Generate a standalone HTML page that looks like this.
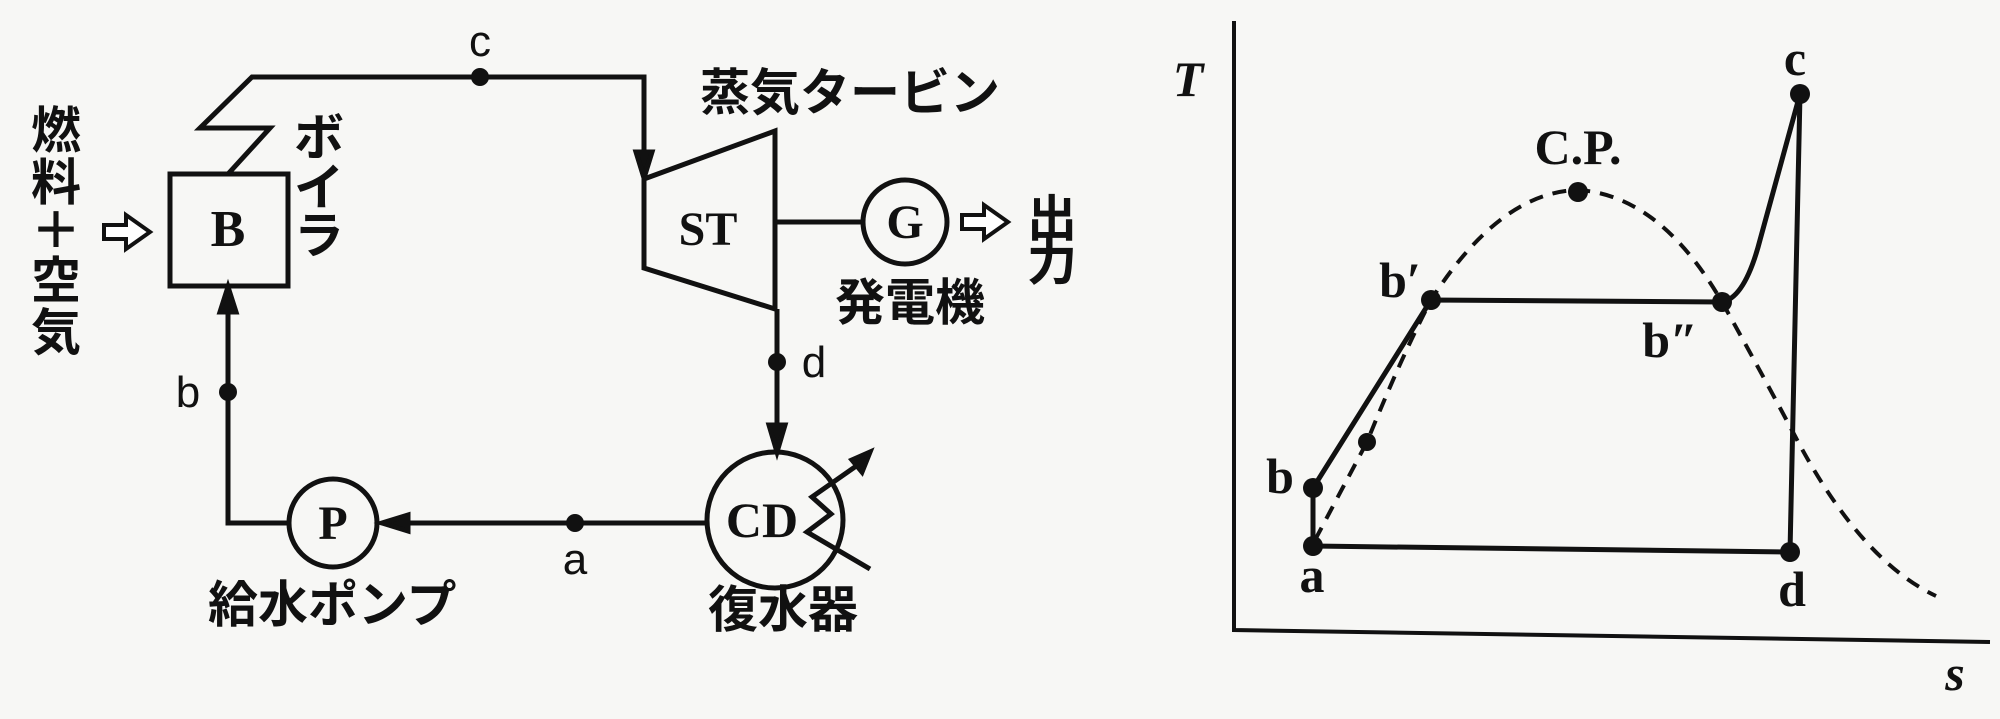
<!DOCTYPE html>
<html><head><meta charset="utf-8"><style>
html,body{margin:0;padding:0;background:#f7f7f5;}
svg{display:block}
.j{font-family:"Liberation Sans","Noto Sans CJK JP",sans-serif;font-size:50px;fill:#111;font-weight:bold}
.s{font-family:"Liberation Serif","Noto Serif CJK SC",serif;font-weight:bold;fill:#111}
.l{font-family:"Liberation Sans",sans-serif;font-size:44px;fill:#111}
</style></head><body>
<svg width="2000" height="719" viewBox="0 0 2000 719">
<g stroke="#111" stroke-width="5" fill="none">
<rect x="170" y="174" width="118" height="112"/>
<polyline points="228,174 270,128 200,128 252,77 644,77 644,160"/>
<path d="M636,152 L644,178 L652,152z" fill="#111"/>
<polygon points="644,179 775,131 775,309 644,268"/>
<line x1="775" y1="222" x2="863" y2="222"/>
<circle cx="905" cy="222" r="42"/>
<line x1="777" y1="309" x2="777" y2="430"/>
<path d="M769,425 L777,452 L785,425z" fill="#111"/>
<circle cx="775" cy="520" r="68"/>
<polyline points="870,569 807,532 831,514 812,497 862,462"/>
<path d="M870,452 L852,460 L862,472z" fill="#111"/>
<line x1="708" y1="523" x2="405" y2="523"/>
<path d="M382,523 L408,515 L408,531z" fill="#111"/>
<circle cx="333" cy="523" r="44"/>
<polyline points="289,523 228,523 228,310"/>
<path d="M220,312 L228,287 L236,312z" fill="#111"/>
</g>
<g stroke="#111" stroke-width="4" fill="#fff">
<path d="M104,225 h22 v-10 l24,17 l-24,17 v-10 h-22z"/>
<path d="M962,215 h22 v-10 l24,17 l-24,17 v-10 h-22z"/>
</g>
<g fill="#111">
<circle cx="480" cy="77" r="9"/><circle cx="777" cy="362" r="9"/><circle cx="575" cy="523" r="9"/><circle cx="228" cy="392" r="9"/>
</g>
<text class="s" x="228" y="246" font-size="52" text-anchor="middle">B</text>
<text class="s" x="708" y="245" font-size="48" text-anchor="middle">ST</text>
<text class="s" x="905" y="238" font-size="48" text-anchor="middle">G</text>
<text class="s" x="333" y="539" font-size="48" text-anchor="middle">P</text>
<text class="s" x="762" y="537" font-size="50" text-anchor="middle">CD</text>
<text class="l" x="480" y="56" text-anchor="middle">c</text>
<text class="l" x="814" y="377" text-anchor="middle">d</text>
<text class="l" x="575" y="574" text-anchor="middle">a</text>
<text class="l" x="188" y="407" text-anchor="middle">b</text>
<g class="j" text-anchor="middle">
<text x="56" y="148">燃</text><text x="56" y="200">料</text><text x="56" y="248">＋</text><text x="56" y="298">空</text><text x="56" y="350">気</text>
<text x="319" y="155">ボ</text><text x="319" y="205">イ</text><text x="319" y="253">ラ</text>
<text x="1052" y="236">出</text><text x="1052" y="280">力</text>
</g>
<text class="j" x="700" y="110" font-size="48">蒸気タービン</text>
<text class="j" x="835" y="320" font-size="48">発電機</text>
<text class="j" x="208" y="622" font-size="51">給水ポンプ</text>
<text class="j" x="708" y="627" font-size="50">復水器</text>
<g stroke="#111" stroke-width="4" fill="none">
<polyline points="1234,21 1234,630 1990,642"/>
<path d="M1315,540 L1367,442 Q1400,360 1431,300 Q1500,192 1578,190 Q1660,195 1722,302 Q1760,370 1795,436 Q1860,560 1936,596" stroke-dasharray="14,10"/>
</g>
<g stroke="#111" stroke-width="5" fill="none">
<polyline points="1313,546 1313,488 1431,300 1722,302"/>
<path d="M1722,302 Q1745,298 1760,240 Q1782,160 1800,94"/>
<polyline points="1800,94 1790,552 1313,546"/>
</g>
<g fill="#111">
<circle cx="1313" cy="546" r="10"/><circle cx="1313" cy="488" r="10"/><circle cx="1431" cy="300" r="10"/><circle cx="1722" cy="302" r="10"/><circle cx="1800" cy="94" r="10"/><circle cx="1790" cy="552" r="10"/><circle cx="1578" cy="192" r="10"/><circle cx="1367" cy="442" r="9"/>
</g>
<g class="s" font-size="50">
<text x="1188" y="96" font-style="italic" text-anchor="middle">T</text>
<text x="1955" y="690" font-style="italic" text-anchor="middle">s</text>
<text x="1280" y="493" text-anchor="middle">b</text>
<text x="1400" y="297" text-anchor="middle">b′</text>
<text x="1670" y="357" text-anchor="middle">b″</text>
<text x="1795" y="75" text-anchor="middle">c</text>
<text x="1792" y="606" text-anchor="middle">d</text>
<text x="1312" y="592" text-anchor="middle">a</text>
<text x="1578" y="164" text-anchor="middle">C.P.</text>
</g>
</svg>
</body></html>
